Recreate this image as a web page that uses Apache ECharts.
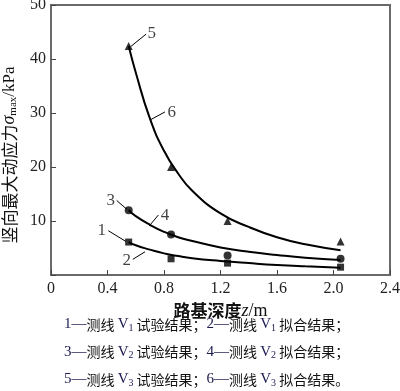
<!DOCTYPE html>
<html><head><meta charset="utf-8">
<script src="https://cdn.jsdelivr.net/npm/echarts@6/dist/echarts.min.js"></script>
<style>html,body{margin:0;padding:0;background:#fff}#c{width:400px;height:391px}</style>
</head><body><div id="c"></div>
<script>
// Measured test results (depth z in m, sigma_max in kPa)
const v1Test = [[0.55, 6.1], [0.85, 3.0], [1.25, 2.2], [2.05, 1.45]];
const v2Test = [[0.55, 12.0], [0.85, 7.5], [1.25, 3.6], [2.05, 3.0]];
const v3Test = [[0.55, 42.4], [0.85, 20.0], [1.25, 10.0], [2.05, 6.2]];
// Fitted curves
const v1Fit = [[0.55, 6.1], [0.6, 5.5], [0.7, 4.7], [0.8, 4.0], [0.9, 3.5], [1.0, 3.1], [1.2, 2.6], [1.4, 2.2], [1.6, 1.85], [1.8, 1.6], [2.05, 1.35]];
const v2Fit = [[0.55, 12.0], [0.6, 10.9], [0.7, 9.3], [0.8, 8.0], [0.9, 7.0], [1.0, 6.3], [1.2, 5.1], [1.4, 4.3], [1.6, 3.7], [1.8, 3.2], [2.05, 2.8]];
const v3Fit = [[0.55, 42.4], [0.6, 37.5], [0.7, 29.0], [0.8, 23.0], [0.9, 18.8], [1.0, 15.6], [1.2, 11.4], [1.4, 8.9], [1.6, 7.0], [1.8, 5.7], [2.05, 4.6]];
// Callout leader lines and their numbers (data coordinates)
const calloutLines = [
  [[0.564, 42.3], [0.673, 44.6]],
  [[0.701, 28.7], [0.807, 30.2]],
  [[0.465, 13.8], [0.540, 12.1]],
  [[0.696, 9.1], [0.760, 11.1]],
  [[0.406, 8.2], [0.531, 6.2]],
  [[0.579, 2.9], [0.666, 4.3]]
];
const calloutLabels = [['5', 0.713, 44.8], ['6', 0.855, 30.1], ['3', 0.423, 13.7], ['4', 0.807, 11.1], ['1', 0.359, 8.2], ['2', 0.536, 2.65]];
const xTicks = [0, 0.4, 0.8, 1.2, 1.6, 2.0, 2.4];
const yTicks = [0, 10, 20, 30, 40, 50];
const legendLines = [
  [['1', '1', '试验结果；'], ['2', '1', '拟合结果；']],
  [['3', '2', '试验结果；'], ['4', '2', '拟合结果；']],
  [['5', '3', '试验结果；'], ['6', '3', '拟合结果。']]
];

const SERIF = '"Liberation Serif", "Times New Roman", serif';
const CJK = '"Noto Sans CJK SC", sans-serif';

const chart = echarts.init(document.getElementById('c'), null, {renderer: 'canvas'});

function legendText(line) {
  return line.map(p => '{n|' + p[0] + '—}{c|测线 }{n|V}{s|' + p[1] + '}{c| ' + p[2] + '}').join('');
}
const legendRich = {
  n: {fontFamily: SERIF, fontSize: 15, fill: '#1a1a50', lineHeight: 20},
  c: {fontFamily: CJK, fontSize: 14, fill: '#111', lineHeight: 20},
  s: {fontFamily: SERIF, fontSize: 10, fill: '#1a1a50', lineHeight: 20, padding: [7, 0, 0, 0]}
};

const scatterStyle = {color: '#000'};
const option = {
  animation: false,
  backgroundColor: '#fff',
  grid: {left: 51, top: 5, right: 10, bottom: 116, containLabel: false, outerBoundsMode: 'none',
    show: true, borderColor: '#6a6a6a', borderWidth: 2, backgroundColor: 'transparent'},
  xAxis: {
    type: 'value', min: xTicks[0], max: xTicks[xTicks.length - 1], interval: 0.4,
    name: '{c|路基深度}{i|z}{m|/m}', nameLocation: 'middle', nameGap: 27,
    nameTextStyle: {rich: {
      c: {fontFamily: CJK, fontSize: 17, fontWeight: 'bold', color: '#111'},
      i: {fontFamily: SERIF, fontSize: 18, fontStyle: 'italic', color: '#111'},
      m: {fontFamily: SERIF, fontSize: 18, color: '#111'}
    }},
    axisLine: {lineStyle: {color: '#6a6a6a', width: 2}},
    axisTick: {inside: true, length: 5, lineStyle: {color: '#444'}},
    axisLabel: {fontFamily: SERIF, fontSize: 16, color: '#222', margin: 6,
      formatter: v => (v === 0 ? '0' : v.toFixed(1))},
    splitLine: {show: false}
  },
  yAxis: {
    type: 'value', min: yTicks[0], max: yTicks[yTicks.length - 1], interval: 10,
    name: '{c|竖向最大动应力}{i|σ}{s|max}{m|/kPa}', nameLocation: 'middle', nameRotate: 90, nameGap: 29,
    nameTextStyle: {padding: [0, 30, 0, 0], rich: {
      c: {fontFamily: CJK, fontSize: 17, color: '#111'},
      i: {fontFamily: SERIF, fontSize: 18, fontStyle: 'italic', color: '#111'},
      s: {fontFamily: SERIF, fontSize: 11, color: '#111', padding: [8, 0, 0, 0]},
      m: {fontFamily: SERIF, fontSize: 17, color: '#111'}
    }},
    axisLine: {lineStyle: {color: '#6a6a6a', width: 2}},
    axisTick: {inside: true, length: 5, lineStyle: {color: '#444'}},
    axisLabel: {fontFamily: SERIF, fontSize: 16, color: '#222', margin: 5,
      formatter: v => (v === 0 ? '' : String(v))},
    splitLine: {show: false}
  },
  series: [
    {type: 'line', data: v1Fit, smooth: true, symbol: 'none', lineStyle: {color: '#000', width: 2}, z: 2},
    {type: 'line', data: v2Fit, smooth: true, symbol: 'none', lineStyle: {color: '#000', width: 2}, z: 2},
    {type: 'line', data: v3Fit, smooth: true, symbol: 'none', lineStyle: {color: '#000', width: 2}, z: 2},
    {type: 'scatter', data: v1Test, symbol: 'rect', symbolSize: 7, itemStyle: scatterStyle, z: 3},
    {type: 'scatter', data: v2Test, symbol: 'circle', symbolSize: 8, itemStyle: scatterStyle, z: 3},
    {type: 'scatter', data: v3Test, symbol: 'triangle', symbolSize: 8, itemStyle: scatterStyle, z: 3},
    {
      type: 'lines', coordinateSystem: 'cartesian2d', polyline: false,
      data: calloutLines.map(c => ({coords: c})),
      lineStyle: {color: '#000', width: 1, opacity: 1}, symbol: 'none', silent: true, z: 4
    },
    {
      type: 'scatter', symbolSize: 0, silent: true, z: 5,
      data: calloutLabels.map(l => ({value: [l[1], l[2]], name: l[0]})),
      label: {show: true, position: 'inside', formatter: p => p.name, fontFamily: SERIF, fontSize: 17, color: '#111'}
    }
  ],
  graphic: legendLines.map((line, i) => ({
    type: 'text', left: 64, top: 316 + i * 27.5,
    style: {text: legendText(line), rich: legendRich}
  }))
};
chart.setOption(option);
</script>
</body></html>
